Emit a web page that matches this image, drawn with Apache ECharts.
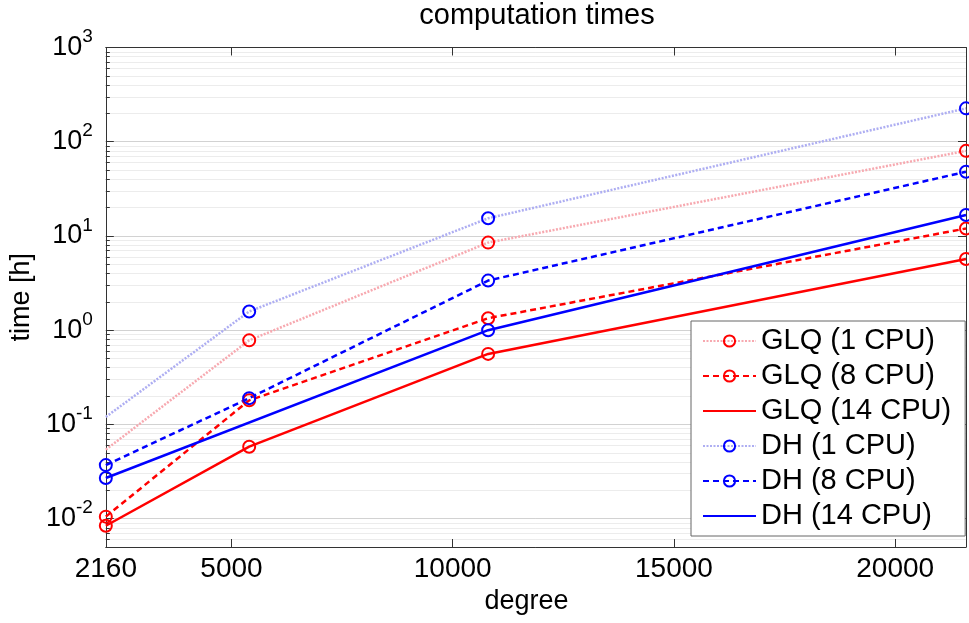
<!DOCTYPE html>
<html>
<head>
<meta charset="utf-8">
<script src="https://cdn.jsdelivr.net/npm/echarts@6/dist/echarts.min.js"></script>
<style>
  html, body { margin: 0; padding: 0; background: #fff; }
  #chart { width: 969px; height: 623px; }
</style>
</head>
<body>
<div id="chart"></div>
<script>
// degree of expansion
const degrees = [2160, 5400, 10800, 21600];
const dh14Degrees = [2160, 10800, 21600];

// computation time in hours
const glq1 = [0.054, 0.78, 8.5, 80];
const glq8 = [0.0105, 0.18, 1.34, 12];
const glq14 = [0.0084, 0.058, 0.56, 5.7];
const dh1 = [0.12, 1.58, 15.4, 226];
const dh8 = [0.037, 0.19, 3.36, 48];
const dh14 = [0.027, 1.0, 16.7];

const xTicks = [2160, 5000, 10000, 15000, 20000];
const yTicks = [0.01, 0.1, 1, 10, 100, 1000];
const yMinor = [];
[0.001, 0.01, 0.1, 1, 10, 100].forEach(p => {
  for (let k = 2; k <= 9; k++) yMinor.push(+(p * k).toPrecision(3));
});

const RED = "#ff0000";
const BLUE = "#0000ff";
const font = "Liberation Sans";

function pairs(xs, ys, hideFirst) {
  return ys.map((v, i) => {
    const item = { value: [xs[i], v] };
    if (hideFirst && i === 0) item.symbol = "none";
    return item;
  });
}

function line(name, xs, ys, color, lineColor, type, hideFirst) {
  return {
    name: name,
    type: "line",
    data: pairs(xs, ys, hideFirst),
    symbol: "circle",
    symbolSize: 12,
    clip: false,
    itemStyle: { color: "rgba(0,0,0,0)", borderColor: color, borderWidth: 2 },
    lineStyle: { color: lineColor, width: 2.5, type: type },
    emphasis: { disabled: true }
  };
}

const chart = echarts.init(document.getElementById("chart"));
chart.setOption({
  animation: false,
  textStyle: { fontFamily: font },
  grid: { left: 103, right: 3, top: 47.5, bottom: 76 },
  graphic: [{
    type: "text",
    x: 537,
    y: 1,
    style: { text: "computation times", fontSize: 29, fontFamily: font, fill: "#000", align: "center" }
  }],
  legend: {
    orient: "vertical",
    left: 691,
    top: 321,
    padding: [5, 14, 5, 11],
    itemWidth: 53,
    itemHeight: 14,
    itemGap: 5,
    backgroundColor: "#fff",
    borderColor: "#666",
    borderWidth: 1,
    borderRadius: 0,
    textStyle: { fontSize: 29, color: "#000", fontFamily: font, lineHeight: 30 },
    data: [
      "GLQ (1 CPU)",
      "GLQ (8 CPU)",
      { name: "GLQ (14 CPU)", itemStyle: { borderColor: "rgba(0,0,0,0)" } },
      "DH (1 CPU)",
      "DH (8 CPU)",
      { name: "DH (14 CPU)", itemStyle: { borderColor: "rgba(0,0,0,0)" } }
    ]
  },
  xAxis: [{
    type: "value",
    min: 2160,
    max: 21600,
    position: "bottom",
    name: "degree",
    nameLocation: "middle",
    nameGap: 36,
    nameTextStyle: { fontSize: 27, color: "#000", padding: [0, 19, 0, 0] },
    axisLine: { lineStyle: { color: "#333", width: 1 } },
    axisTick: { inside: true, length: 8, customValues: xTicks, lineStyle: { color: "#333" } },
    axisLabel: { customValues: xTicks, formatter: v => String(v), fontSize: 28, color: "#000", margin: 8 },
    splitLine: { show: false }
  }, {
    type: "value",
    min: 2160,
    max: 21600,
    position: "top",
    axisLine: { lineStyle: { color: "#333", width: 1 } },
    axisTick: { inside: true, length: 8, customValues: xTicks, lineStyle: { color: "#333" } },
    axisLabel: { show: false },
    splitLine: { show: false }
  }],
  yAxis: [{
    type: "log",
    logBase: 10,
    min: 0.005,
    max: 1000,
    position: "left",
    name: "time [h]",
    nameLocation: "middle",
    nameGap: 64,
    nameTextStyle: { fontSize: 27, color: "#000" },
    axisLine: { show: true, lineStyle: { color: "#333", width: 1 } },
    axisTick: { inside: true, length: 8, customValues: yTicks, lineStyle: { color: "#333" } },
    axisLabel: {
      customValues: yTicks,
      margin: 13,
      formatter: v => "{b|10}{s|" + Math.round(Math.log10(v)) + "}",
      rich: {
        b: { fontSize: 27, lineHeight: 40, color: "#000", fontFamily: font },
        s: { fontSize: 19, lineHeight: 19, color: "#000", fontFamily: font, verticalAlign: "top" }
      }
    },
    splitLine: { show: true, lineStyle: { color: "#d2d2d2", width: 1 } }
  }, {
    type: "log",
    logBase: 10,
    min: 0.005,
    max: 1000,
    position: "left",
    axisLine: { show: false },
    axisTick: { inside: true, length: 4, customValues: yMinor, lineStyle: { color: "#333" } },
    axisLabel: { show: false },
    splitLine: { show: true, lineStyle: { color: "#ececec", width: 1 } }
  }, {
    type: "log",
    logBase: 10,
    min: 0.005,
    max: 1000,
    position: "right",
    axisLine: { show: true, lineStyle: { color: "#333", width: 1 } },
    axisTick: { inside: true, length: 8, customValues: yTicks, lineStyle: { color: "#333" } },
    axisLabel: { show: false },
    splitLine: { show: false }
  }],
  series: [
    line("GLQ (1 CPU)", degrees, glq1, RED, "#f7a9b0", [2, 1.5], true),
    line("GLQ (8 CPU)", degrees, glq8, RED, RED, [6, 4], false),
    line("GLQ (14 CPU)", degrees, glq14, RED, RED, "solid", false),
    line("DH (1 CPU)", degrees, dh1, BLUE, "#aeaef2", [2, 1.5], true),
    line("DH (8 CPU)", degrees, dh8, BLUE, BLUE, [6, 4], false),
    line("DH (14 CPU)", dh14Degrees, dh14, BLUE, BLUE, "solid", false)
  ]
});
</script>
</body>
</html>
